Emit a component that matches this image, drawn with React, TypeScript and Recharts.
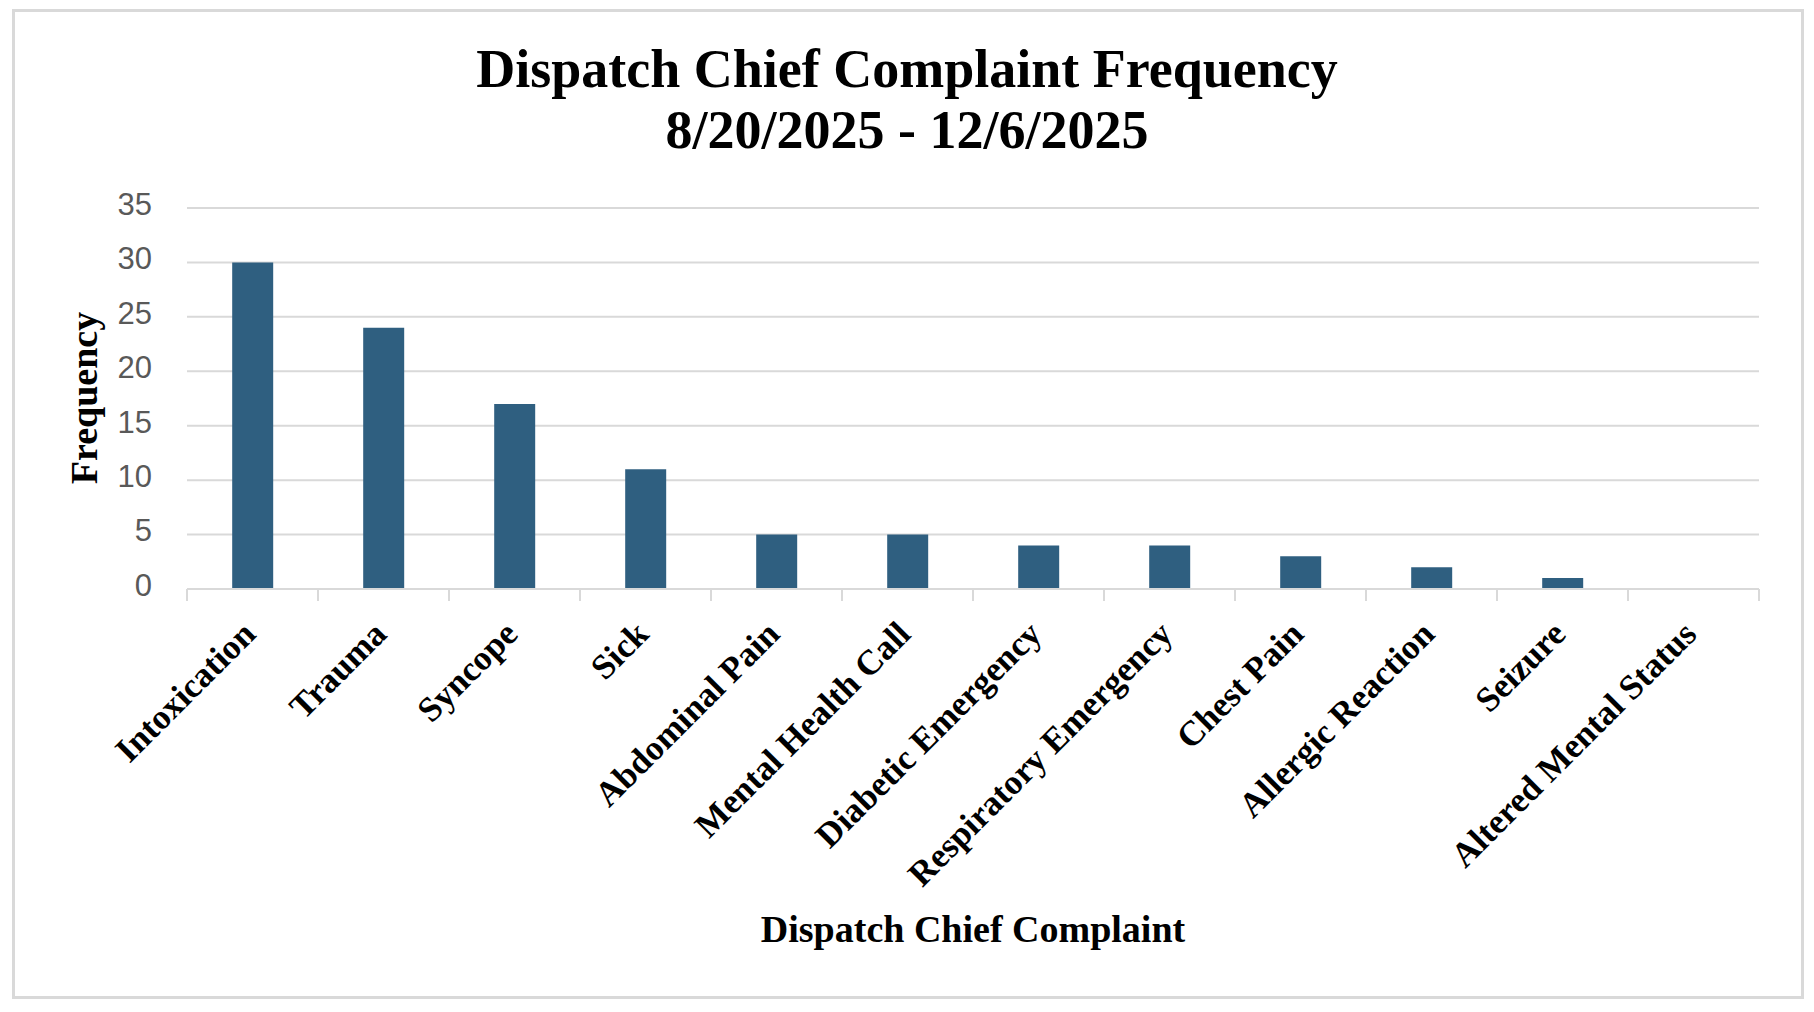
import { BarChart, Bar, XAxis, YAxis, CartesianGrid } from 'recharts';

const complaints = [
    'Intoxication',
    'Trauma',
    'Syncope',
    'Sick',
    'Abdominal Pain',
    'Mental Health Call',
    'Diabetic Emergency',
    'Respiratory Emergency',
    'Chest Pain',
    'Allergic Reaction',
    'Seizure',
    'Altered Mental Status'
];
const frequencies = [30, 24, 17, 11, 5, 5, 4, 4, 3, 2, 1, 0];
const yTicks = [0, 5, 10, 15, 20, 25, 30, 35];

const titleLines = ['Dispatch Chief Complaint Frequency', '8/20/2025 - 12/6/2025'];
const xTitle = 'Dispatch Chief Complaint';
const yTitle = 'Frequency';

const data = complaints.map((name, i) => ({ name, value: frequencies[i] }));

// layout
const W = 1814;
const H = 1012;
const PLOT_LEFT = 187;
const PLOT_RIGHT = 1759;
const HALF_BAND = (PLOT_RIGHT - PLOT_LEFT) / complaints.length / 2;
const GRID = '#d9d9d9';
const SERIF = '"Liberation Serif", "Times New Roman", serif';
const SANS = '"Liberation Sans", Arial, sans-serif';

function CategoryTick(props: any) {
    const { x, y, payload } = props;
    const isLast = payload.value === complaints[complaints.length - 1];
    return (
        <g>
            <line x1={x - HALF_BAND} x2={x - HALF_BAND} y1={y} y2={y + 12} stroke={GRID} strokeWidth={2} />
            {isLast && (
                <line x1={x + HALF_BAND} x2={x + HALF_BAND} y1={y} y2={y + 12} stroke={GRID} strokeWidth={2} />
            )}
            <g transform={`translate(${x + 5},${y + 47})`}>
                <text
                    transform="rotate(-45)"
                    textAnchor="end"
                    fontFamily={SERIF}
                    fontWeight="bold"
                    fontSize={35}
                    fill="#000"
                >
                    {payload.value}
                </text>
            </g>
        </g>
    );
}

function ValueTick(props: any) {
    const { x, y, payload } = props;
    return (
        <text x={x} y={y - 4} dy="0.35em" textAnchor="end" fill="#595959" fontSize={31} fontFamily={SANS}>
            {payload.value}
        </text>
    );
}

export default function App() {
    return (
        <div style={{ position: 'absolute', left: 0, top: 0, width: W, height: H, background: '#fff' }}>
            <div
                style={{
                    position: 'absolute',
                    left: 12,
                    top: 9,
                    width: 1792,
                    height: 990,
                    boxSizing: 'border-box',
                    border: `3px solid ${GRID}`
                }}
            />
            <div style={{ position: 'absolute', left: 0, top: 0 }}>
                <BarChart
                    width={W}
                    height={H}
                    data={data}
                    margin={{ top: 208, right: W - PLOT_RIGHT, left: PLOT_LEFT - 60, bottom: 123 }}
                    barCategoryGap="34.5%"
                >
                    <CartesianGrid vertical={false} stroke={GRID} strokeWidth={2} />
                    <XAxis
                        dataKey="name"
                        interval={0}
                        height={300}
                        axisLine={{ stroke: GRID, strokeWidth: 2 }}
                        tickLine={false}
                        tickSize={0}
                        tickMargin={0}
                        tick={<CategoryTick />}
                    />
                    <YAxis
                        width={60}
                        domain={[0, 35]}
                        ticks={yTicks}
                        axisLine={false}
                        tickLine={false}
                        tickSize={0}
                        tickMargin={35}
                        tick={<ValueTick />}
                    />
                    <Bar dataKey="value" fill="#2f5f80" isAnimationActive={false} />
                </BarChart>
            </div>
            <svg
                width={W}
                height={H}
                style={{ position: 'absolute', left: 0, top: 0, pointerEvents: 'none' }}
            >
                <g fontFamily={SERIF} fontWeight="bold" fill="#000" textAnchor="middle">
                    <text x={907} y={87} fontSize={54}>{titleLines[0]}</text>
                    <text x={907} y={148} fontSize={54}>{titleLines[1]}</text>
                    <text x={973} y={942} fontSize={38}>{xTitle}</text>
                    <text x={0} y={0} fontSize={38} transform="translate(97,398) rotate(-90)">{yTitle}</text>
                </g>
            </svg>
        </div>
    );
}
